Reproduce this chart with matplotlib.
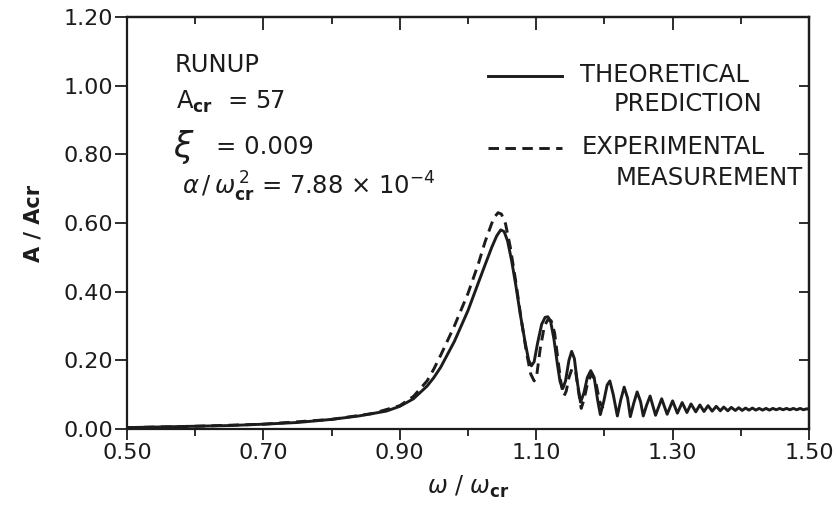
import matplotlib
matplotlib.use("Agg")
import matplotlib.pyplot as plt
from matplotlib.ticker import MultipleLocator, FormatStrFormatter

plt.rcParams['font.family'] = ['DejaVu Sans']
plt.rcParams['mathtext.fontset'] = 'dejavusans'

INK = '#1c1c1c'

# theoretical prediction
theo_x = [0.50, 0.55, 0.60, 0.65, 0.70, 0.75, 0.80, 0.84, 0.88, 0.90, 0.92, 0.94,
          0.95, 0.96, 0.98, 1.00, 1.015, 1.025, 1.035, 1.042, 1.048, 1.053, 1.058,
          1.064, 1.070, 1.077, 1.084, 1.089, 1.093, 1.097, 1.102, 1.108, 1.113,
          1.117, 1.121, 1.126, 1.131, 1.135, 1.139, 1.143, 1.148, 1.152, 1.156,
          1.160, 1.165, 1.170, 1.175, 1.180, 1.185, 1.190, 1.194, 1.199, 1.204,
          1.208, 1.213, 1.219, 1.224, 1.229, 1.234, 1.238, 1.243, 1.248, 1.253,
          1.257, 1.262, 1.267, 1.275, 1.284, 1.292, 1.300, 1.307, 1.314, 1.321,
          1.327, 1.334, 1.340, 1.346, 1.352, 1.358, 1.364, 1.370, 1.375, 1.381,
          1.386, 1.392, 1.397, 1.402, 1.407, 1.412, 1.417, 1.422, 1.427, 1.432,
          1.437, 1.442, 1.447, 1.452, 1.457, 1.462, 1.467, 1.472, 1.477, 1.482,
          1.487, 1.492, 1.497, 1.500]
theo_y = [0.004, 0.006, 0.008, 0.010, 0.014, 0.019, 0.028, 0.038, 0.052, 0.066, 0.088, 0.125,
          0.150, 0.180, 0.255, 0.345, 0.425, 0.478, 0.530, 0.562, 0.580, 0.575, 0.548,
          0.490, 0.420, 0.330, 0.250, 0.200, 0.184, 0.196, 0.250, 0.305, 0.325,
          0.327, 0.315, 0.262, 0.190, 0.138, 0.118, 0.140, 0.200, 0.226, 0.205,
          0.140, 0.078, 0.105, 0.150, 0.170, 0.150, 0.085, 0.042, 0.080, 0.128,
          0.140, 0.100, 0.038, 0.085, 0.122, 0.090, 0.036, 0.075, 0.108, 0.080,
          0.038, 0.070, 0.096, 0.040, 0.088, 0.043, 0.082, 0.046, 0.077, 0.048,
          0.073, 0.050, 0.070, 0.051, 0.068, 0.052, 0.066, 0.053, 0.064, 0.053,
          0.063, 0.054, 0.062, 0.054, 0.061, 0.055, 0.061, 0.055, 0.060, 0.055,
          0.060, 0.055, 0.060, 0.056, 0.060, 0.056, 0.060, 0.056, 0.060, 0.056,
          0.060, 0.056, 0.059, 0.057]

# experimental measurement
exp_x = [0.50, 0.60, 0.70, 0.80, 0.86, 0.90, 0.92, 0.94, 0.95, 0.96, 0.98, 1.00,
         1.015, 1.025, 1.035, 1.040, 1.044, 1.049, 1.055, 1.062, 1.070, 1.078,
         1.086, 1.092, 1.097, 1.101, 1.106, 1.112, 1.117, 1.122, 1.127, 1.132,
         1.137, 1.141, 1.144, 1.148, 1.153, 1.158, 1.162, 1.166, 1.170, 1.176,
         1.182, 1.188, 1.193, 1.198]
exp_y = [0.004, 0.008, 0.014, 0.028, 0.045, 0.068, 0.095, 0.140, 0.175, 0.215, 0.300, 0.395,
         0.480, 0.545, 0.600, 0.620, 0.630, 0.626, 0.598, 0.530, 0.430, 0.320,
         0.220, 0.160, 0.140, 0.160, 0.235, 0.300, 0.318, 0.315, 0.280, 0.200,
         0.125, 0.097, 0.110, 0.150, 0.178, 0.165, 0.110, 0.060, 0.085, 0.140,
         0.160, 0.130, 0.080, 0.060]

x_ticks = [0.50, 0.70, 0.90, 1.10, 1.30, 1.50]
y_ticks = [0.00, 0.20, 0.40, 0.60, 0.80, 1.00, 1.20]

fig = plt.figure(figsize=(8.37, 5.16), dpi=100)
ax = fig.add_axes([127 / 837, 1 - 429 / 516, 682 / 837, 412 / 516])

ax.plot(theo_x, theo_y, color=INK, lw=2.1, solid_capstyle='round')
ax.plot(exp_x, exp_y, color=INK, lw=2.1, linestyle=(0, (3.6, 2.2)))

ax.set_xlim(0.5, 1.5)
ax.set_ylim(0.0, 1.2)
ax.set_xticks(x_ticks)
ax.set_yticks(y_ticks)
ax.xaxis.set_minor_locator(MultipleLocator(0.1))
ax.xaxis.set_major_formatter(FormatStrFormatter('%.2f'))
ax.yaxis.set_major_formatter(FormatStrFormatter('%.2f'))
ax.tick_params(axis='x', which='major', direction='out', length=8, width=1.3,
               labelsize=16, pad=2, colors=INK)
ax.tick_params(axis='x', which='minor', direction='out', length=5, width=1.3, colors=INK)
ax.tick_params(axis='y', which='major', direction='out', length=9, width=1.3,
               labelsize=16, pad=1, colors=INK)
for s in ax.spines.values():
    s.set_linewidth(1.6)
    s.set_color(INK)

# inward ticks on top and right
top = ax.secondary_xaxis('top')
top.set_xticks(x_ticks)
top.xaxis.set_minor_locator(MultipleLocator(0.1))
top.tick_params(which='major', direction='in', length=9, width=1.3, labeltop=False, colors=INK)
top.tick_params(which='minor', direction='in', length=5, width=1.3, colors=INK)
top.spines['top'].set_linewidth(1.6)
right = ax.secondary_yaxis('right')
right.set_yticks(y_ticks)
right.tick_params(direction='in', length=7, width=1.3, labelright=False, colors=INK)
right.spines['right'].set_linewidth(1.6)

ax.set_xlabel(r'$\omega$ / $\omega_{\mathbf{cr}}$', fontsize=17, labelpad=8, color=INK)
ax.set_ylabel('A / Acr', fontsize=15, fontweight='bold', labelpad=14, color=INK)

# parameter block
ax.text(0.070, 0.883, 'RUNUP', transform=ax.transAxes, fontsize=17.5, va='center', color=INK)
ax.text(0.072, 0.795, r'A$_{\mathbf{cr}}$  = 57', transform=ax.transAxes, fontsize=17.5,
        va='center', color=INK)
ax.text(0.068, 0.684, r'$\xi$', transform=ax.transAxes, fontsize=25, va='center', color=INK)
ax.text(0.130, 0.684, '= 0.009', transform=ax.transAxes, fontsize=17.5, va='center', color=INK)
ax.text(0.080, 0.587, r'$\alpha\,/\,\omega_{\mathbf{cr}}^{\,2}$ = 7.88 $\times$ 10$^{-4}$',
        transform=ax.transAxes, fontsize=17.5, va='center', color=INK)

# legend
ax.plot([0.529, 0.638], [0.857, 0.857], transform=ax.transAxes, color=INK, lw=2.1)
ax.plot([0.529, 0.638], [0.682, 0.682], transform=ax.transAxes, color=INK, lw=2.1,
        linestyle=(0, (3.6, 2.2)))
ax.text(0.664, 0.859, 'THEORETICAL', transform=ax.transAxes, fontsize=17.5, va='center', color=INK)
ax.text(0.713, 0.790, 'PREDICTION', transform=ax.transAxes, fontsize=17.5, va='center', color=INK)
ax.text(0.667, 0.685, 'EXPERIMENTAL', transform=ax.transAxes, fontsize=17.5, va='center', color=INK)
ax.text(0.716, 0.610, 'MEASUREMENT', transform=ax.transAxes, fontsize=17.5, va='center', color=INK)

fig.savefig('out.png', dpi=100, facecolor='white')
